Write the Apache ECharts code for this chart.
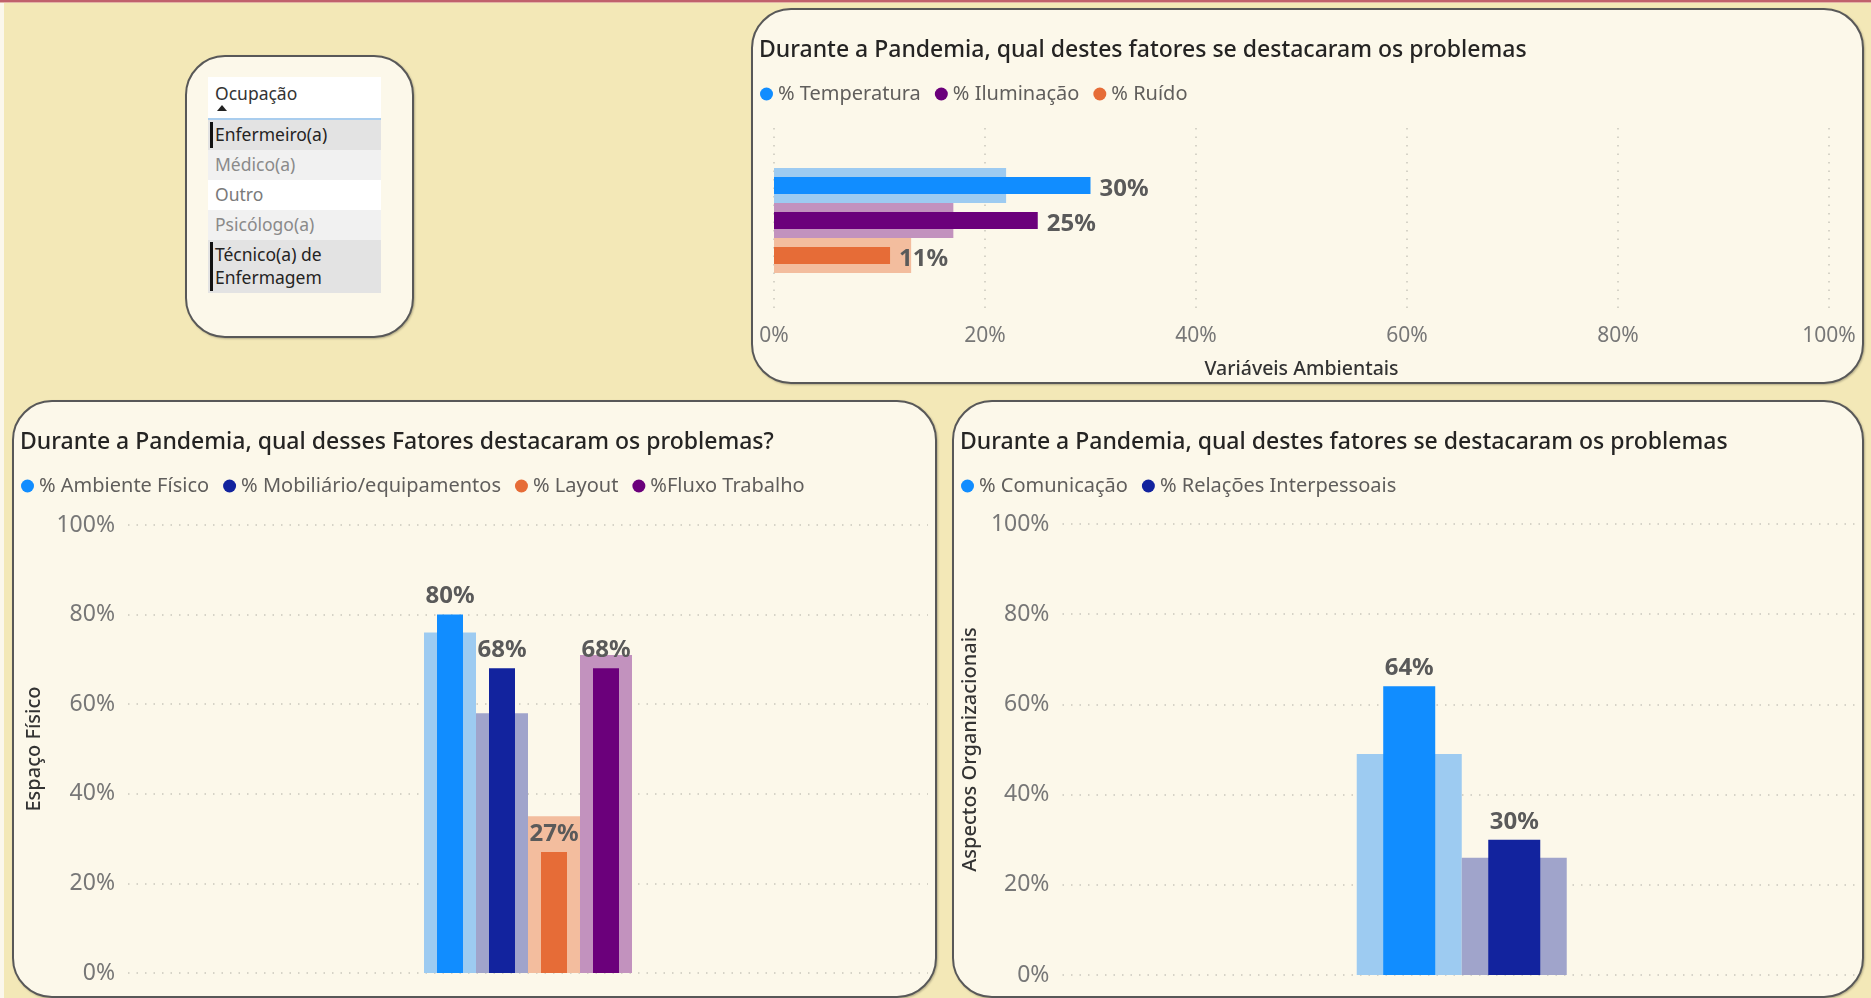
<!DOCTYPE html>
<html>
<head>
<meta charset="utf-8">
<title>Pandemia - fatores</title>
<script src="https://cdn.jsdelivr.net/npm/echarts@6/dist/echarts.min.js"></script>
<style>
body{margin:0;width:1871px;height:998px;overflow:hidden;background:#F3E8B7;font-family:"Noto Sans",sans-serif;position:relative;}
.linha-topo{position:absolute;left:0;top:0;width:1871px;height:2px;background:#C0606C;border-bottom:1px solid #E3B3A8;}
.faixa-esq{position:absolute;left:0;top:3px;width:4px;height:995px;background:#FBF7EC;}
.painel{position:absolute;box-sizing:border-box;background:#FCF8EA;border:2px solid #585858;border-radius:40px;box-shadow:1px 1px 2px rgba(0,0,0,.25);}
.grafico{position:absolute;}
#slicer{left:185px;top:55px;width:229px;height:283px;}
.lista{position:absolute;left:21px;top:20px;width:173px;}
.cab{background:#fff;height:41px;border-bottom:2px solid #A9CDEE;position:relative;}
.cab span{position:absolute;left:7px;top:4px;font-size:17.5px;color:#333;}
.cab i{position:absolute;left:9px;top:28px;width:0;height:0;border-left:5px solid transparent;border-right:5px solid transparent;border-bottom:6px solid #222;}
.item{font-size:17.5px;line-height:23px;padding:3px 4px 4px 7px;position:relative;}
.item.sel{background:#E3E3E3;color:#252423;}
.item.sel:before{content:"";position:absolute;left:2px;top:2px;bottom:2px;width:3px;background:#111;}
.item.cinza{background:#F1F1F1;color:#8a8a8a;}
.item.branco{background:#fff;color:#7a7a7a;}
</style>
</head>
<body>
<div class="linha-topo"></div>
<div class="faixa-esq"></div>

<div class="painel" id="slicer"><div class="lista" id="listaOcupacao"></div></div>

<div class="painel" style="left:751px;top:8px;width:1113px;height:376px;"></div>
<div class="painel" style="left:12px;top:400px;width:925px;height:598px;"></div>
<div class="painel" style="left:952px;top:400px;width:912px;height:598px;"></div>

<div class="grafico" id="VarAmbientais" style="left:751px;top:8px;width:1113px;height:376px;"></div>
<div class="grafico" id="EspacoFisico" style="left:12px;top:400px;width:925px;height:598px;"></div>
<div class="grafico" id="AspectosOrg" style="left:952px;top:400px;width:912px;height:598px;"></div>

<script>
var ocupacoes = ['Enfermeiro(a)', 'Médico(a)', 'Outro', 'Psicólogo(a)', 'Técnico(a) de Enfermagem'];
var ocupEstilo = ['sel', 'cinza', 'branco', 'cinza', 'sel'];

var fatoresAmb = ['% Temperatura', '% Iluminação', '% Ruído'];
var ambTotal = [22, 17, 13];      // barra clara (total)
var ambSel = [30, 25, 11];        // barra destacada
var coresAmb = ['#118DFF', '#6B007B', '#E66C37'];
var coresAmbClaro = ['#9DCBF1', '#C292BE', '#F3BD9E'];

var fatoresFis = ['% Ambiente Físico', '% Mobiliário/equipamentos', '% Layout', '%Fluxo Trabalho'];
var fisTotal = [76, 58, 35, 71];
var fisSel = [80, 68, 27, 68];
var coresFis = ['#118DFF', '#12239E', '#E66C37', '#6B007B'];
var coresFisClaro = ['#9DCBF1', '#A0A4CB', '#F3BD9E', '#C292BE'];

var fatoresOrg = ['% Comunicação', '% Relações Interpessoais'];
var orgTotal = [49, 26];
var orgSel = [64, 30];
var coresOrg = ['#118DFF', '#12239E'];
var coresOrgClaro = ['#9DCBF1', '#A0A4CB'];

var eixoPct = [0, 20, 40, 60, 80, 100];

var fonte = '"Noto Sans", sans-serif';

function montaSlicer(){
	var html = '<div class="cab"><span>Ocupação</span><i></i></div>';
	for(var i=0;i<ocupacoes.length;i++){
		html += '<div class="item ' + ocupEstilo[i] + '">' + ocupacoes[i].replace(' de ', ' de<br>') + '</div>';
	}
	document.getElementById('listaOcupacao').innerHTML = html;
}

function titulo(texto){
	return {
		text: texto, left: 8, top: 31, padding: 0,
		textStyle: {fontFamily: fonte, fontSize: 23, fontWeight: 500, color: '#252423'}
	};
}

function legenda(nomes){
	return {
		data: nomes, left: 9, top: 76, padding: 0, icon: 'circle',
		itemWidth: 13, itemHeight: 13, itemGap: 14,
		textStyle: {fontFamily: fonte, fontSize: 20, color: '#605E5C'}
	};
}

var linhaPontilhada = {show: true, lineStyle: {color: '#C9C6BC', width: 1.5, type: [1.5, 7]}};

var rotuloValor = {
	show: true, fontFamily: fonte, fontSize: 24, fontWeight: 'bold', color: '#5A5A5A',
	formatter: '{c}%'
};

// series: barras claras no eixo 0, destacadas no eixo 1
function montaSeries(nomes, total, sel, cores, claras, larguraClara, larguraForte, horizontal, posRotulo){
	var series = [];
	var gapForte = Math.round((larguraClara - larguraForte) / larguraForte * 100) + '%';
	for(var i=0;i<nomes.length;i++){
		var s = {
			name: 'total ' + nomes[i], type: 'bar', data: [total[i]],
			barWidth: larguraClara, barGap: '0%',
			itemStyle: {color: claras[i]}, silent: true
		};
		if(horizontal){ s.yAxisIndex = 0; } else { s.xAxisIndex = 0; }
		series.push(s);
	}
	for(var j=0;j<nomes.length;j++){
		var d = {
			name: nomes[j], type: 'bar', data: [sel[j]],
			barWidth: larguraForte, barGap: gapForte,
			itemStyle: {color: cores[j]},
			label: Object.assign({position: posRotulo, distance: horizontal ? 9 : 6}, rotuloValor)
		};
		if(horizontal){ d.yAxisIndex = 1; d.label.offset = [0, 4]; } else { d.xAxisIndex = 1; }
		series.push(d);
	}
	return series;
}

function showVarAmbientais(){
	var myChart = echarts.init(document.getElementById('VarAmbientais'));
	var option = {
		animation: false,
		color: coresAmb,
		title: titulo('Durante a Pandemia, qual destes fatores se destacaram os problemas'),
		legend: legenda(fatoresAmb),
		grid: {left: 23, right: 35, top: 120, bottom: 71},
		xAxis: {
			type: 'value', min: 0, max: 100, interval: 20,
			name: 'Variáveis Ambientais', nameLocation: 'middle', nameGap: 46,
			nameTextStyle: {fontFamily: fonte, fontSize: 19.5, fontWeight: 500, color: '#333'},
			axisLine: {show: false}, axisTick: {show: false},
			axisLabel: {formatter: '{value}%', margin: 13, fontFamily: fonte, fontSize: 21, color: '#777'},
			splitLine: linhaPontilhada
		},
		yAxis: [
			{type: 'category', data: [''], inverse: true, show: false},
			{type: 'category', data: [''], inverse: true, show: false}
		],
		series: montaSeries(fatoresAmb, ambTotal, ambSel, coresAmb, coresAmbClaro, 35, 17, true, 'right')
	};
	myChart.setOption(option);
}

function showBarrasVerticais(id, textoTitulo, nomeEixo, nomes, total, sel, cores, claras, larguraClara, larguraForte, grade, gapNome){
	var myChart = echarts.init(document.getElementById(id));
	var option = {
		animation: false,
		color: cores,
		title: titulo(textoTitulo),
		legend: legenda(nomes),
		grid: grade,
		xAxis: [
			{type: 'category', data: [''], show: false},
			{type: 'category', data: [''], show: false}
		],
		yAxis: {
			type: 'value', min: 0, max: 100, interval: 20,
			name: nomeEixo, nameLocation: 'middle', nameGap: gapNome, nameRotate: 90,
			nameTextStyle: {fontFamily: fonte, fontSize: 20, fontWeight: 500, color: '#333'},
			axisLine: {show: false}, axisTick: {show: false},
			axisLabel: {formatter: function(v){ return eixoPct.indexOf(v) >= 0 ? v + '%' : ''; }, margin: 13, fontFamily: fonte, fontSize: 23, color: '#777'},
			splitLine: linhaPontilhada
		},
		series: montaSeries(nomes, total, sel, cores, claras, larguraClara, larguraForte, false, 'top')
	};
	myChart.setOption(option);
}

montaSlicer();
showVarAmbientais();
showBarrasVerticais('EspacoFisico', 'Durante a Pandemia, qual desses Fatores destacaram os problemas?', 'Espaço Físico',
	fatoresFis, fisTotal, fisSel, coresFis, coresFisClaro, 52, 26, {left: 116, right: 9, top: 125, bottom: 25}, 84);
showBarrasVerticais('AspectosOrg', 'Durante a Pandemia, qual destes fatores se destacaram os problemas', 'Aspectos Organizacionais',
	fatoresOrg, orgTotal, orgSel, coresOrg, coresOrgClaro, 105, 52, {left: 108, right: 3, top: 124, bottom: 23}, 76);
</script>
</body>
</html>
